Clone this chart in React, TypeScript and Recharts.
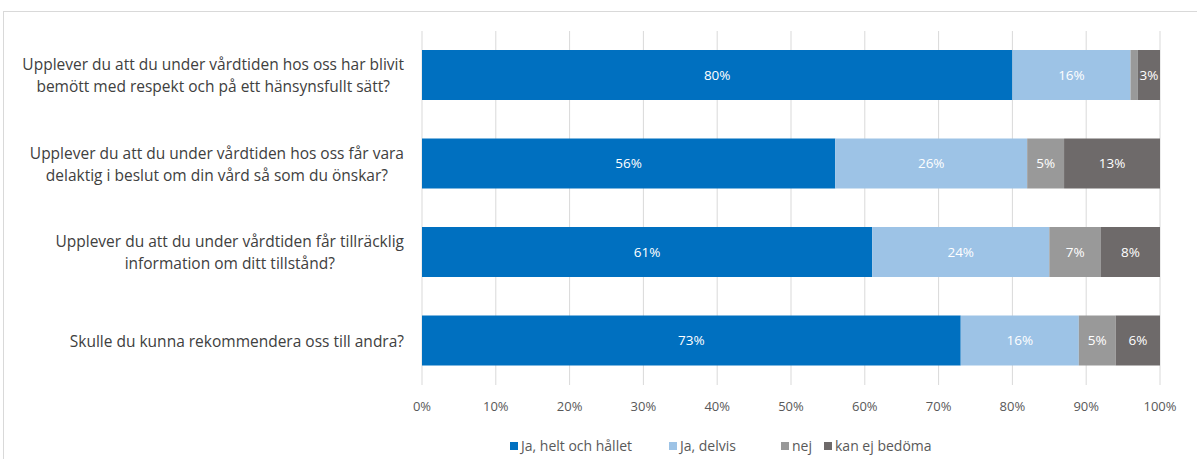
import React from 'react';
import {
  BarChart,
  Bar,
  XAxis,
  YAxis,
  CartesianGrid,
  LabelList,
  Legend
} from 'recharts';

const FONT = '"Open Sans", "Noto Sans", sans-serif';

// questions, "\n" marks the line break
const questions = [
  'Upplever du att du under vårdtiden hos oss har blivit\nbemött med respekt och på ett hänsynsfullt sätt?',
  'Upplever du att du under vårdtiden hos oss får vara\ndelaktig i beslut om din vård så som du önskar?',
  'Upplever du att du under vårdtiden får tillräcklig\ninformation om ditt tillstånd?',
  'Skulle du kunna rekommendera oss till andra?'
];

const helt = [80, 56, 61, 73];
const delvis = [16, 26, 24, 16];
const nej = [1, 5, 7, 5];
const kanEj = [3, 13, 8, 6];

const xTicks = [0, 10, 20, 30, 40, 50, 60, 70, 80, 90, 100];

const series = [
  { key: 'helt', name: 'Ja, helt och hållet', color: '#0070C0', slot: 159 },
  { key: 'delvis', name: 'Ja, delvis', color: '#9DC3E6', slot: 112 },
  { key: 'nej', name: 'nej', color: '#999999', slot: 43 },
  { key: 'kanEj', name: 'kan ej bedöma', color: '#6E6A6A', slot: 120 }
];

const data = questions.map((q, i) => ({
  q,
  helt: helt[i],
  delvis: delvis[i],
  nej: nej[i],
  kanEj: kanEj[i]
}));

const Y_FONT_SIZE = 15.5;
let ctx: CanvasRenderingContext2D | null = null;
const measure = (s: string) => {
  if (!ctx) ctx = document.createElement('canvas').getContext('2d');
  if (!ctx) return s.length * 7;
  ctx.font = `${Y_FONT_SIZE}px ${FONT}`;
  return ctx.measureText(s).width;
};

const QuestionTick = (props: any) => {
  const { x, y, payload } = props;
  const lines = String(payload.value).split('\n');
  const right = x - 10;
  const w = Math.max(...lines.map(measure));
  const cx = right - w / 2;
  const lh = 22;
  const startY = y - ((lines.length - 1) * lh) / 2;
  return (
    <text
      x={cx}
      y={startY}
      textAnchor="middle"
      dominantBaseline="central"
      fill="#404040"
      fontSize={Y_FONT_SIZE}
      fontFamily={FONT}
    >
      {lines.map((l, i) => (
        <tspan key={i} x={cx} y={startY + i * lh}>
          {l}
        </tspan>
      ))}
    </text>
  );
};

const LegendBox = () => (
  <div
    style={{
      height: 37,
      display: 'flex',
      alignItems: 'center',
      paddingLeft: 510,
      paddingTop: 10,
      boxSizing: 'border-box',
      fontFamily: FONT,
      fontSize: 14,
      color: '#595959'
    }}
  >
    {series.map((s) => (
      <span key={s.key} style={{ display: 'flex', alignItems: 'center', width: s.slot, whiteSpace: 'nowrap' }}>
        <span style={{ width: 8, height: 8, background: s.color, marginRight: 3 }} />
        {s.name}
      </span>
    ))}
  </div>
);

const pct = (v: any) => (Number(v) >= 2 ? `${v}%` : '');

export default function App() {
  return (
    <div style={{ position: 'fixed', left: 0, top: 0, width: 1197, height: 459, background: '#fff', overflow: 'hidden' }}>
      <div
        style={{
          position: 'absolute',
          left: 3,
          top: 11,
          width: 1300,
          height: 500,
          border: '1px solid #d9d9d9'
        }}
      />
      <div style={{ position: 'absolute', left: 0, top: 0 }}>
        <BarChart
          width={1197}
          height={459}
          data={data}
          layout="vertical"
          margin={{ top: 31, right: 37, left: 0, bottom: 0 }}
          barSize={50}
        >
          <CartesianGrid horizontal={false} stroke="#d9d9d9" />
          <XAxis
            type="number"
            domain={[0, 100]}
            ticks={xTicks}
            tickFormatter={(v) => `${v}%`}
            axisLine={false}
            tickLine={false}
            tickMargin={11}
            height={37}
            tick={{ fill: '#595959', fontSize: 13, fontFamily: FONT }}
            interval={0}
          />
          <YAxis
            type="category"
            dataKey="q"
            width={422}
            axisLine={false}
            tickLine={false}
            tick={<QuestionTick />}
            interval={0}
          />
          <Legend verticalAlign="bottom" content={<LegendBox />} />
          {series.map((s) => (
            <Bar key={s.key} dataKey={s.key} name={s.name} stackId="a" fill={s.color} isAnimationActive={false}>
              <LabelList
                dataKey={s.key}
                position="center"
                formatter={pct}
                fill="#ffffff"
                fontSize={13.5}
                fontFamily={FONT}
              />
            </Bar>
          ))}
        </BarChart>
      </div>
    </div>
  );
}
